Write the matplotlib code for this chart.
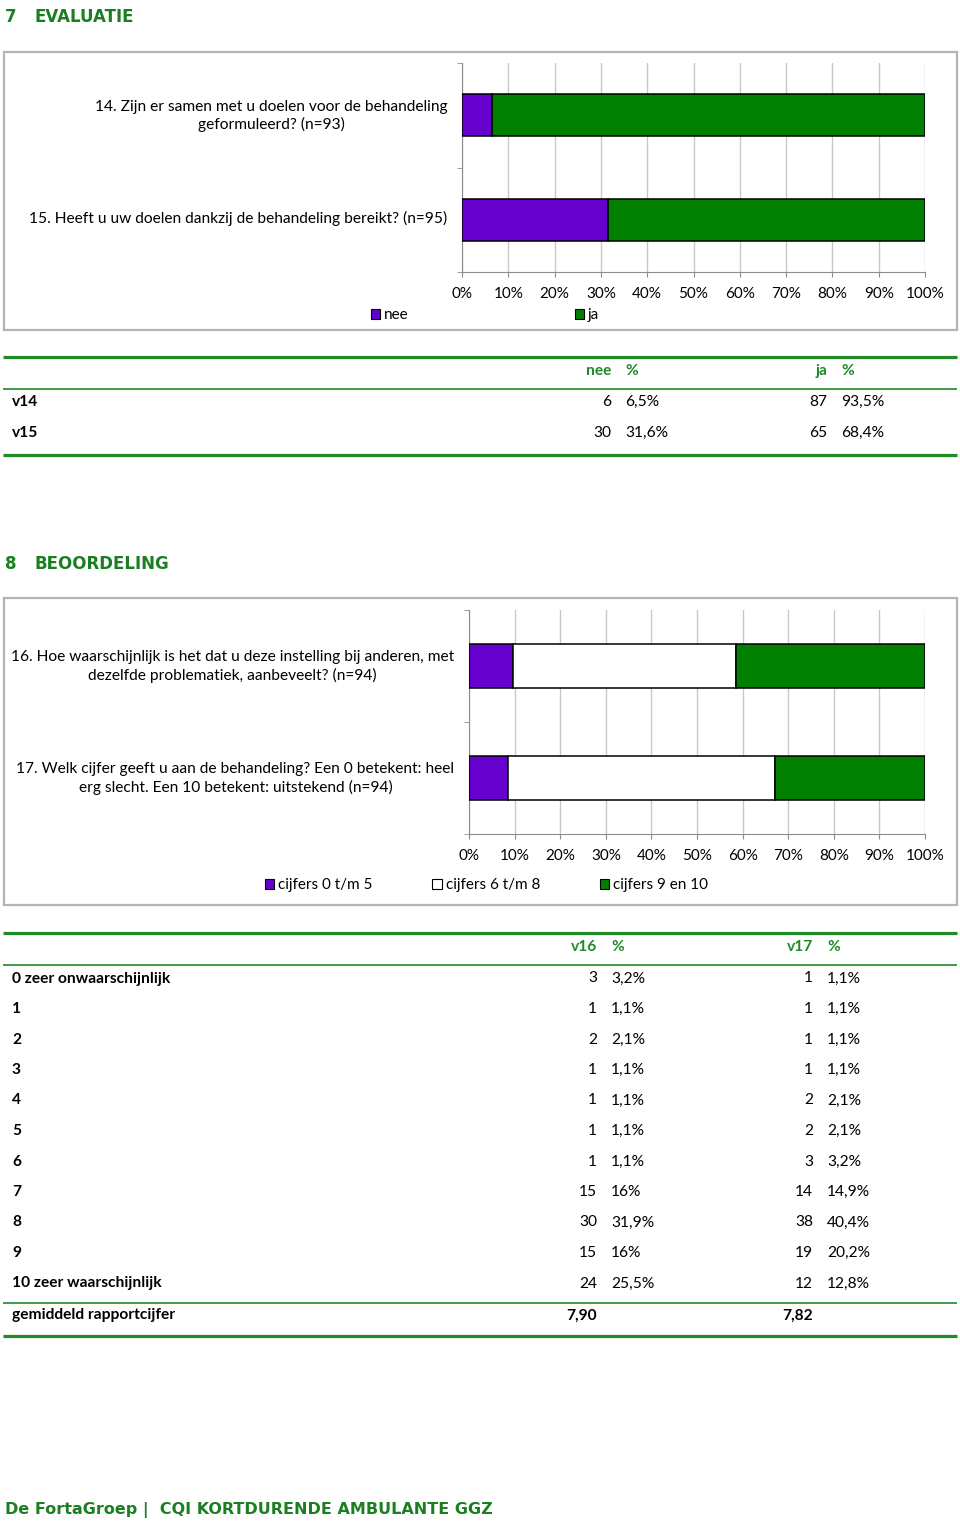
import matplotlib
matplotlib.use('Agg')
import matplotlib.pyplot as plt
from matplotlib.patches import Rectangle, Patch
from matplotlib.transforms import ScaledTranslation

plt.rcParams['font.family'] = ['Lato', 'DejaVu Sans']

W, H = 960, 1524
PURPLE = '#6600cc'
GREEN = '#007f00'
LINE_GREEN = '#1f8a26'
HEAD_GREEN = '#1b7f22'
GRID = '#c8c8c8'
AXIS = '#8c8c8c'

# --- data ---
q1_labels = ['14. Zijn er samen met u doelen voor de behandeling\ngeformuleerd? (n=93)',
             '15. Heeft u uw doelen dankzij de behandeling bereikt? (n=95)']
q1_names = ['nee', 'ja']
q1_nee = [6.5, 31.6]
q1_ja = [93.5, 68.4]

t1_rows = ['v14', 'v15']
t1_nee_n = [6, 30]
t1_nee_pct = [6.5, 31.6]
t1_ja_n = [87, 65]
t1_ja_pct = [93.5, 68.4]

q2_labels = ['16. Hoe waarschijnlijk is het dat u deze instelling bij anderen, met\ndezelfde problematiek, aanbeveelt? (n=94)',
             '17. Welk cijfer geeft u aan de behandeling? Een 0 betekent: heel\nerg slecht. Een 10 betekent: uitstekend (n=94)']
q2_names = ['cijfers 0 t/m 5', 'cijfers 6 t/m 8', 'cijfers 9 en 10']
q2_low = [9.6, 8.5]
q2_mid = [48.9, 58.5]
q2_high = [41.5, 33.0]

t2_rows = ['0 zeer onwaarschijnlijk', '1', '2', '3', '4', '5', '6', '7', '8', '9',
           '10 zeer waarschijnlijk']
t2_v16_n = [3, 1, 2, 1, 1, 1, 1, 15, 30, 15, 24]
t2_v16_pct = [3.2, 1.1, 2.1, 1.1, 1.1, 1.1, 1.1, 16, 31.9, 16, 25.5]
t2_v17_n = [1, 1, 1, 1, 2, 2, 3, 14, 38, 19, 12]
t2_v17_pct = [1.1, 1.1, 1.1, 1.1, 2.1, 2.1, 3.2, 14.9, 40.4, 20.2, 12.8]
t2_mean = ['7,90', '7,82']


def pct(v):
    return f'{v:g}'.replace('.', ',') + '%'


fig = plt.figure(figsize=(W / 100, H / 100), dpi=100)
page = fig.add_axes([0, 0, 1, 1])
page.set_xlim(0, W)
page.set_ylim(H, 0)
page.axis('off')

FS = 11          # ticks, legend
LFS = 11.2       # category labels
TFS = 11.2       # tables
HFONT = ['DejaVu Sans']


def heading(num, title, y):
    page.text(5, y, num, color=HEAD_GREEN, fontsize=12, fontweight='bold', family=HFONT, va='center')
    page.text(34, y, title, color=HEAD_GREEN, fontsize=12, fontweight='bold', family=HFONT, va='center')


def box(y0, y1):
    page.add_patch(Rectangle((4, y0), 953, y1 - y0, fill=False, edgecolor='#b4b4b4', lw=1.6))


def chart(x0, x1, y0, y1, labels, series, colors, names, leg_x, leg_y, colspace):
    ax = fig.add_axes([x0 / W, 1 - y1 / H, (x1 - x0) / W, (y1 - y0) / H])
    ypos = list(range(len(labels)))
    left = [0] * len(labels)
    handles = []
    for vals, c, n in zip(series, colors, names):
        ax.barh(ypos, vals, left=left, height=0.4, color=c, edgecolor='black', lw=1.1, zorder=3)
        left = [a + b for a, b in zip(left, vals)]
        handles.append(Patch(facecolor=c, edgecolor='black', lw=0.8, label=n))
    ax.set_xlim(0, 100)
    ax.set_ylim(len(labels) - 0.5, -0.5)
    ax.set_xticks(range(0, 101, 10), [f'{v}%' for v in range(0, 101, 10)], fontsize=FS)
    ax.grid(axis='x', color=GRID, lw=1, zorder=0)
    ax.set_yticks(ypos, labels, fontsize=LFS)
    ax.set_yticks([i - 0.5 for i in range(len(labels) + 1)], minor=True)
    ax.tick_params(axis='y', which='major', length=0, pad=10.5)
    ax.tick_params(axis='y', which='minor', length=3.5, color=AXIS)
    ax.tick_params(axis='x', length=3.5, color=AXIS, pad=7.5)
    # nudge the question labels up a little (after tick_params, which resets transforms)
    shift = ScaledTranslation(0, 2.5 / 100, fig.dpi_scale_trans)
    for t in ax.get_yticklabels():
        t.set_multialignment('center')
        t.set_linespacing(1.3)
        t.set_transform(t.get_transform() + shift)
    for s in ['top', 'right']:
        ax.spines[s].set_visible(False)
    for s in ['left', 'bottom']:
        ax.spines[s].set_color(AXIS)
    ax.legend(handles=handles, ncol=len(handles), frameon=False, fontsize=FS,
              loc='center left', bbox_to_anchor=(leg_x, leg_y), bbox_transform=page.transData,
              borderpad=0, borderaxespad=0, handlelength=0.62, handleheight=0.62,
              handletextpad=0.25, columnspacing=colspace)
    return ax


def hline(y, lw):
    page.plot([3, 957], [y, y], color=LINE_GREEN, lw=lw, solid_capstyle='butt')


# --- section 7 ---
heading('7', 'EVALUATIE', 17)
box(52, 330)
chart(462, 925, 63, 272, q1_labels, [q1_nee, q1_ja], [PURPLE, GREEN], q1_names, 371, 315, 10.85)

# table 1
hline(357, 2.3)
hline(389, 1.2)
hline(455, 2.3)
tfont = dict(fontsize=TFS, va='center')
page.text(611, 371, 'nee', ha='right', color=LINE_GREEN, fontweight='bold', **tfont)
page.text(625, 371, '%', ha='left', color=LINE_GREEN, fontweight='bold', **tfont)
page.text(827, 371, 'ja', ha='right', color=LINE_GREEN, fontweight='bold', **tfont)
page.text(841, 371, '%', ha='left', color=LINE_GREEN, fontweight='bold', **tfont)
for i, r in enumerate(t1_rows):
    y = 402 + i * 31
    page.text(12, y, r, ha='left', fontweight='bold', **tfont)
    page.text(611, y, str(t1_nee_n[i]), ha='right', **tfont)
    page.text(625, y, pct(t1_nee_pct[i]), ha='left', **tfont)
    page.text(827, y, str(t1_ja_n[i]), ha='right', **tfont)
    page.text(841, y, pct(t1_ja_pct[i]), ha='left', **tfont)

# --- section 8 ---
heading('8', 'BEOORDELING', 564)
box(598, 905)
chart(469, 925, 610, 834, q2_labels, [q2_low, q2_mid, q2_high], [PURPLE, 'white', GREEN],
      q2_names, 265, 885, 3.9)

# table 2
hline(933, 2.3)
hline(965, 1.2)
hline(1303, 1.2)
hline(1336, 2.3)
page.text(597, 947, 'v16', ha='right', color=LINE_GREEN, fontweight='bold', **tfont)
page.text(611, 947, '%', ha='left', color=LINE_GREEN, fontweight='bold', **tfont)
page.text(813, 947, 'v17', ha='right', color=LINE_GREEN, fontweight='bold', **tfont)
page.text(827, 947, '%', ha='left', color=LINE_GREEN, fontweight='bold', **tfont)
for i, r in enumerate(t2_rows):
    y = 978.5 + i * 30.5
    page.text(12, y, r, ha='left', fontweight='bold', **tfont)
    page.text(597, y, str(t2_v16_n[i]), ha='right', **tfont)
    page.text(611, y, pct(t2_v16_pct[i]), ha='left', **tfont)
    page.text(813, y, str(t2_v17_n[i]), ha='right', **tfont)
    page.text(827, y, pct(t2_v17_pct[i]), ha='left', **tfont)
page.text(12, 1315.5, 'gemiddeld rapportcijfer', ha='left', fontweight='bold', **tfont)
page.text(597, 1315.5, t2_mean[0], ha='right', fontweight='bold', **tfont)
page.text(813, 1315.5, t2_mean[1], ha='right', fontweight='bold', **tfont)

# footer
page.text(5, 1509.5, 'De FortaGroep |  CQI KORTDURENDE AMBULANTE GGZ', color=HEAD_GREEN,
          fontsize=11.5, fontweight='bold', family=HFONT, va='center')

fig.savefig('out.png', dpi=100)
